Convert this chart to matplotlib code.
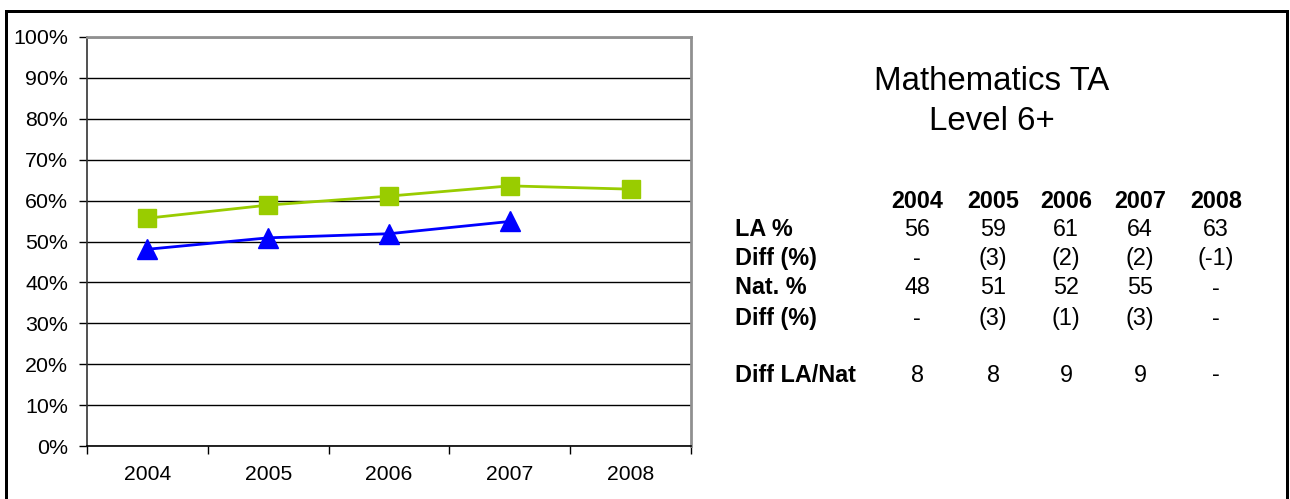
import matplotlib
matplotlib.use("Agg")
import matplotlib.pyplot as plt
from matplotlib.lines import Line2D
from matplotlib.ticker import FixedLocator, PercentFormatter

plt.rcParams['font.family'] = ['Liberation Sans', 'DejaVu Sans']

years = ["2004", "2005", "2006", "2007", "2008"]
la_values = [55.7, 58.9, 61.1, 63.6, 62.8]
nat_values = [48.1, 50.9, 51.9, 54.9]

title_lines = ["Mathematics TA", "Level 6+"]
row_labels = ["LA %", "Diff (%)", "Nat. %", "Diff (%)", "", "Diff LA/Nat"]
table_cells = [
    ["56", "59", "61", "64", "63"],
    ["-", "(3)", "(2)", "(2)", "(-1)"],
    ["48", "51", "52", "55", "-"],
    ["-", "(3)", "(1)", "(3)", "-"],
    ["", "", "", "", ""],
    ["8", "8", "9", "9", "-"],
]

W, H = 1290, 499
fig = plt.figure(figsize=(W / 100, H / 100), dpi=100)
fig.patch.set_facecolor("white")

ax = fig.add_axes([87 / W, 1 - 446 / H, (691 - 87) / W, (446 - 37) / H])
x = list(range(len(years)))
ax.plot(x, la_values, color="#99CC00", lw=2, marker="s", ms=12.5,
        mec="#99CC00", mfc="#99CC00", zorder=3)
ax.plot(x[:len(nat_values)], nat_values, color="#0000FF", lw=2, marker="^",
        ms=15, mec="#0000FF", mfc="#0000FF", zorder=3)

ax.set_xlim(-0.5, len(years) - 0.5)
ax.set_ylim(0, 100)
ax.yaxis.set_major_locator(FixedLocator(range(0, 101, 10)))
ax.yaxis.set_major_formatter(PercentFormatter(decimals=0))
ax.set_xticks(x)
ax.set_xticklabels(years)
ax.set_xticks([i - 0.5 for i in range(len(years) + 1)], minor=True)
ax.tick_params(axis="x", which="major", length=0, pad=14, labelsize=15.2)
ax.tick_params(axis="x", which="minor", length=6, width=1, color="black", direction="out")
ax.tick_params(axis="y", length=6, width=1, direction="out", labelsize=15.4, pad=7.5)
ax.set_axisbelow(True)
ax.yaxis.grid(True, color="black", lw=1)
ax.xaxis.grid(False)
for s in ("top", "right"):
    ax.spines[s].set_color("#909090")
    ax.spines[s].set_linewidth(2)
ax.spines["left"].set_color("#333333")
ax.spines["left"].set_linewidth(1.2)
ax.spines["bottom"].set_color("black")
ax.spines["bottom"].set_linewidth(1.2)

# Title text
fig.text(992 / W, 1 - 81 / H, title_lines[0], ha="center", va="center", fontsize=23.8)
fig.text(992 / W, 1 - 122 / H, title_lines[1], ha="center", va="center", fontsize=23.8)

# Table
tfs = 16.8
col_x = [917, 993, 1066, 1140, 1216]
label_x = 735
header_y = 201
row_y = [230, 259, 288, 318, 346, 375]
for cx, yr in zip(col_x, years):
    fig.text(cx / W, 1 - header_y / H, yr, ha="center", va="center",
             fontsize=tfs, fontweight="bold")
for ry, lab, cells in zip(row_y, row_labels, table_cells):
    if lab:
        fig.text(label_x / W, 1 - ry / H, lab, ha="left", va="center",
                 fontsize=tfs, fontweight="bold")
    for cx, c in zip(col_x, cells):
        if c:
            fig.text(cx / W, 1 - ry / H, c, ha="center", va="center", fontsize=tfs)

# Outer frame (bottom edge lies outside the image)
flw = 3 * 72 / 100
fig.add_artist(Line2D([5.5 / W, 5.5 / W], [0, 1 - 10.5 / H], transform=fig.transFigure, color="black", lw=flw, solid_capstyle="projecting"))
fig.add_artist(Line2D([5.5 / W, 1286.5 / W], [1 - 10.5 / H, 1 - 10.5 / H], transform=fig.transFigure, color="black", lw=flw, solid_capstyle="projecting"))
fig.add_artist(Line2D([1286.5 / W, 1286.5 / W], [0, 1 - 10.5 / H], transform=fig.transFigure, color="black", lw=flw, solid_capstyle="projecting"))

fig.savefig("out.png", dpi=100, facecolor="white")
